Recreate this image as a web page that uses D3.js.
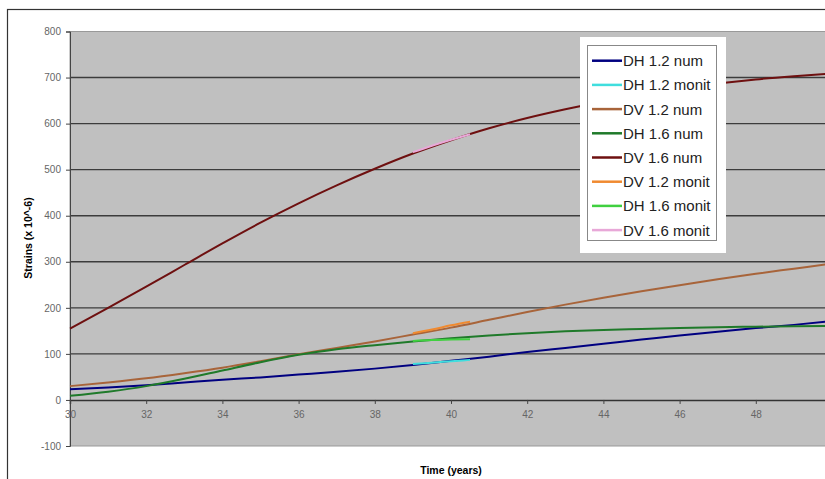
<!DOCTYPE html>
<html>
<head>
  <meta charset="utf-8">
  <title>Strains</title>
  <script src="https://d3js.org/d3.v7.min.js"></script>
  <style>
    body { margin: 0; background: #fff; }
    text { font-family: Arial, "Liberation Sans", sans-serif; }
  </style>
</head>
<body>
<script type="text/javascript">
  var w = 825;
  var h = 479;

  // data
  var years = [30, 31, 32, 33, 34, 35, 36, 37, 38, 39, 40, 41, 42, 43, 44, 45, 46, 47, 48, 49, 50];
  var monitYears = [39, 39.5, 40, 40.5];

  var dh12num = [23, 27, 32, 38, 44, 49, 55, 61, 68, 76, 85, 94, 104, 113, 122, 131, 140, 148, 156, 163, 171];
  var dv12num = [30, 38, 47, 58, 70, 84, 99, 113, 127, 142, 157, 174, 191, 207, 222, 236, 249, 262, 274, 285, 296];
  var dh16num = [9, 18, 30, 46, 64, 82, 98, 110, 119, 127, 134, 140, 145, 149, 152, 154, 156, 158, 159, 160, 161];
  var dv16num = [155, 200, 246, 293, 340, 385, 427, 466, 502, 535, 564, 590, 612, 631, 648, 663, 676, 687, 696, 703, 709];

  var dh12monit = [78, 81, 84, 87];
  var dv12monit = [145, 153, 162, 170];
  var dh16monit = [128, 130, 131, 132];
  var dv16monit = [538, 552, 565, 577];

  var yTicks = [-100, 0, 100, 200, 300, 400, 500, 600, 700, 800];
  var xTicks = [30, 32, 34, 36, 38, 40, 42, 44, 46, 48, 50];

  var series = [
    {name: "DH 1.2 num",   x: years,      y: dh12num,   color: "#000080"},
    {name: "DH 1.2 monit", x: monitYears, y: dh12monit, color: "#40dede"},
    {name: "DV 1.2 num",   x: years,      y: dv12num,   color: "#a8643a"},
    {name: "DH 1.6 num",   x: years,      y: dh16num,   color: "#1f7a2a"},
    {name: "DV 1.6 num",   x: years,      y: dv16num,   color: "#6e1010"},
    {name: "DV 1.2 monit", x: monitYears, y: dv12monit, color: "#f08a30"},
    {name: "DH 1.6 monit", x: monitYears, y: dh16monit, color: "#40d040"},
    {name: "DV 1.6 monit", x: monitYears, y: dv16monit, color: "#e8a8d8"}
  ];

  var svg = d3.select("body").append("svg")
    .attr("width", w)
    .attr("height", h);

  // outer frame
  svg.append("rect")
    .attr("x", 7.5).attr("y", 9.5)
    .attr("width", w + 20).attr("height", h + 20)
    .attr("fill", "#fff")
    .attr("stroke", "#333")
    .attr("stroke-width", 1.2);

  var xScale = d3.scaleLinear().domain([30, 50]).range([70, 832]);
  var yScale = d3.scaleLinear().domain([-100, 800]).range([446, 31.5]);

  // plot area
  svg.append("rect")
    .attr("x", xScale(30)).attr("y", yScale(800))
    .attr("width", xScale(50) - xScale(30))
    .attr("height", yScale(-100) - yScale(800))
    .attr("fill", "#c0c0c0")
    .attr("stroke", "#999");

  // gridlines
  svg.selectAll(".grid")
    .data(yTicks.filter(function(d){ return d > 0 && d < 800; }))
    .enter()
    .append("line")
    .attr("x1", xScale(30)).attr("x2", xScale(50))
    .attr("y1", function(d){ return yScale(d); })
    .attr("y2", function(d){ return yScale(d); })
    .attr("stroke", "#3c3c3c")
    .attr("stroke-width", 1.4);

  var fmt = function(d){ return String(d); };

  // y axis
  var yAxis = svg.append("g")
    .attr("transform", "translate(" + xScale(30) + ",0)")
    .call(d3.axisLeft(yScale).tickValues(yTicks).tickFormat(fmt).tickSize(4).tickPadding(5));
  yAxis.select(".domain").attr("stroke", "#444");
  yAxis.selectAll(".tick line").attr("stroke", "#444");
  yAxis.selectAll("text")
    .attr("font-size", "10px")
    .attr("fill", "#666")
    .attr("font-family", "Arial, 'Liberation Sans', sans-serif");

  // x axis at zero
  var xAxis = svg.append("g")
    .attr("transform", "translate(0," + yScale(0) + ")")
    .call(d3.axisBottom(xScale).tickValues(xTicks).tickFormat(fmt).tickSize(4).tickPadding(7));
  xAxis.select(".domain").attr("stroke", "#333").attr("stroke-width", 1.4);
  xAxis.selectAll(".tick line").attr("stroke", "#444");
  xAxis.selectAll("text")
    .attr("font-size", "10px")
    .attr("fill", "#666")
    .attr("font-family", "Arial, 'Liberation Sans', sans-serif");

  // lines
  var line = d3.line()
    .x(function(d){ return xScale(d[0]); })
    .y(function(d){ return yScale(d[1]); })
    .curve(d3.curveMonotoneX);

  series.forEach(function(s){
    var pts = s.x.map(function(x, i){ return [x, s.y[i]]; });
    svg.append("path")
      .attr("d", line(pts))
      .attr("fill", "none")
      .attr("stroke", s.color)
      .attr("stroke-width", 2);
  });

  // titles
  svg.append("text")
    .attr("x", 451).attr("y", 474)
    .attr("text-anchor", "middle")
    .attr("font-size", "10.5px")
    .attr("font-weight", "bold")
    .text("Time (years)");

  svg.append("text")
    .attr("transform", "translate(32,238) rotate(-90)")
    .attr("text-anchor", "middle")
    .attr("font-size", "10.5px")
    .attr("font-weight", "bold")
    .text("Strains (x 10^-6)");

  // legend
  svg.append("rect")
    .attr("x", 580).attr("y", 37)
    .attr("width", 146).attr("height", 216)
    .attr("fill", "#fff");
  svg.append("rect")
    .attr("x", 587.5).attr("y", 45.5)
    .attr("width", 129).attr("height", 195)
    .attr("fill", "#fff")
    .attr("stroke", "#888");

  var lg = svg.selectAll(".lg")
    .data(series)
    .enter()
    .append("g")
    .attr("transform", function(d, i){ return "translate(0," + (60.7 + i * 24.2) + ")"; });
  lg.append("line")
    .attr("x1", 592).attr("x2", 622)
    .attr("y1", 0).attr("y2", 0)
    .attr("stroke", function(d){ return d.color; })
    .attr("stroke-width", 2.5);
  lg.append("text")
    .attr("x", 623).attr("y", 5.5)
    .attr("font-size", "15px")
    .attr("fill", "#222")
    .text(function(d){ return d.name; });
</script>
</body>
</html>
